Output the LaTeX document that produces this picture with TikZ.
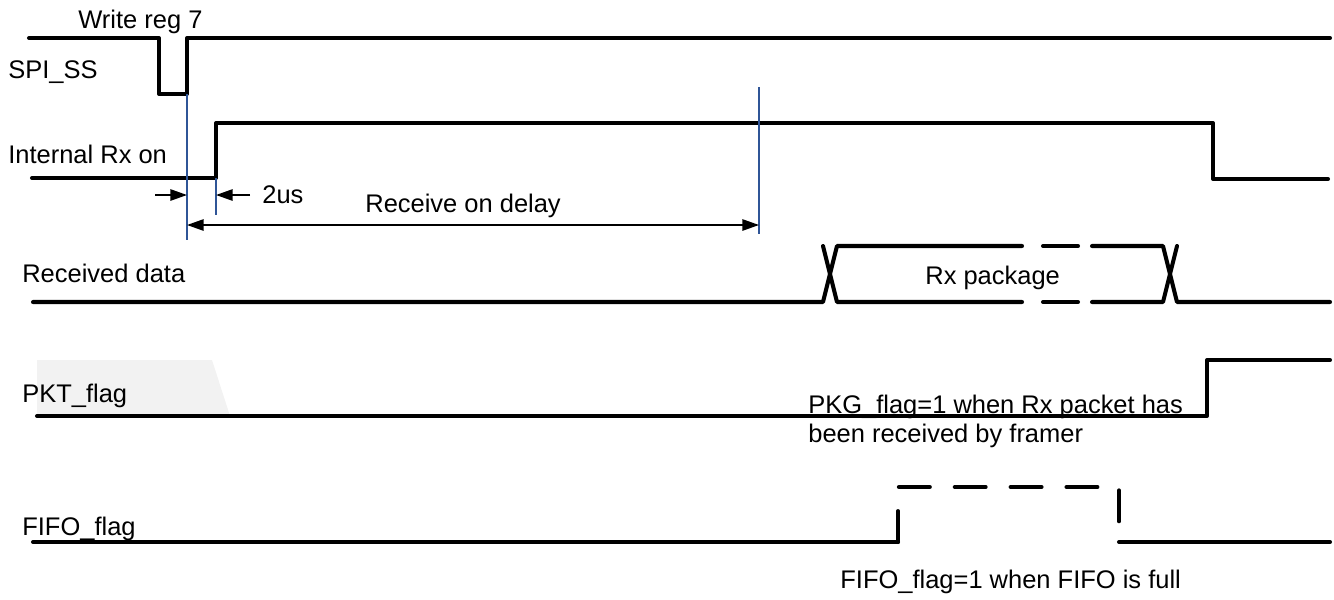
\documentclass[tikz,border=0pt]{standalone}
\usepackage{fontspec}
\setmainfont{Liberation Sans}
\usetikzlibrary{arrows.meta,positioning,calc}
\definecolor{mymarker}{RGB}{47,85,151}
\definecolor{myshade}{RGB}{242,242,242}
\tikzset{
  sig/.style={line width=2.3pt,line cap=round,line join=round},
  sigdash/.style={sig,dash pattern=on 17.6pt off 14.2pt},
  marker/.style={draw=mymarker,line width=0.75pt},
  dim/.style={-{Triangle[length=9.5pt,width=6.5pt]},line width=0.85pt},
  dimboth/.style={{Triangle[length=9.5pt,width=6.5pt]}-{Triangle[length=9.5pt,width=6.5pt]},line width=0.85pt},
  lbl/.style={anchor=base west,inner sep=0pt},
}

\begin{document}
\begin{tikzpicture}[x=0.02cm,y=-0.02cm,every node/.style={font=\fontsize{14.5}{17}\selectfont}]
  \useasboundingbox (0,0) rectangle (1334,599);
  % signal names
  \node[lbl] (wr) at (78,28) {Write reg 7};
  \node[lbl] (ss) at (8,78) {SPI\_SS};
  \node[lbl] (rxon) at (8,163) {Internal Rx on};
  \node[lbl] (rd) at (22,282) {Received data};
  \fill[myshade] (37,360) -- (212,360) -- (230,416) -- (37,416) -- cycle;
  \node[lbl] (pkt) at (22,402) {PKT\_flag};
  \node[lbl] (fifo) at (22,535) {FIFO\_flag};
  % waveforms
  \draw[sig] (29,38) -- (159,38) -- (159,94) -- (187,94) -- (187,38) -- (1330,38);
  \draw[sig] (32,178) -- (216,178) -- (216,123) -- (1213,123) -- (1213,179) -- (1328,179);
  \draw[sig] (33,302) -- (823,302) -- (837,246) -- (1022,246);
  \draw[sig] (823,246) -- (837,302) -- (1022,302);
  \draw[sig] (1043,246) -- (1078,246);
  \draw[sig] (1043,302) -- (1078,302);
  \draw[sig] (1092,246) -- (1163,246) -- (1177,302) -- (1330,302);
  \draw[sig] (1092,302) -- (1163,302) -- (1177,246);
  \node[lbl] (rxp) at (925,284) {Rx package};
  \draw[sig] (37,416) -- (1207,416) -- (1207,360) -- (1330,360);
  \draw[sig] (33,542) -- (898,542);
  \draw[sigdash] (898,542) -- (898,487) -- (1119,487) -- (1119,542);
  \draw[sig] (1119,542) -- (1330,542);
  % timing markers
  \coordinate (m1t) at (187,94);
  \coordinate (m1b) at (187,240);
  \coordinate (m2t) at (216,178);
  \coordinate (m2b) at (216,215);
  \coordinate (m3t) at (759,87);
  \coordinate (m3b) at (759,234);
  \draw[marker] (m1t) -- (m1b);
  \draw[marker] (m2t) -- (m2b);
  \draw[marker] (m3t) -- (m3b);
  \coordinate (a1) at (155,195);
  \coordinate (a2) at (250,195);
  \draw[dim] (a1) -- (a1 -| m1t);
  \draw[dim] (a2) -- (a2 -| m2t);
  \node[lbl] (tus) at (262,203) {2us};
  \coordinate (d1) at (187,225);
  \draw[dimboth] (d1) -- (d1 -| m3t);
  \node[lbl] (rod) at (365,212) {Receive on delay};
  % notes
  \node[lbl] (pkgnote) at (808,413) {PKG\_flag=1 when Rx packet has};
  \node[lbl] (pkgnote2) at ($(pkgnote.base west)+(0,29)$) {been received by framer};
  \node[lbl] (fifonote) at (840,588) {FIFO\_flag=1 when FIFO is full};
\end{tikzpicture}
\end{document}
